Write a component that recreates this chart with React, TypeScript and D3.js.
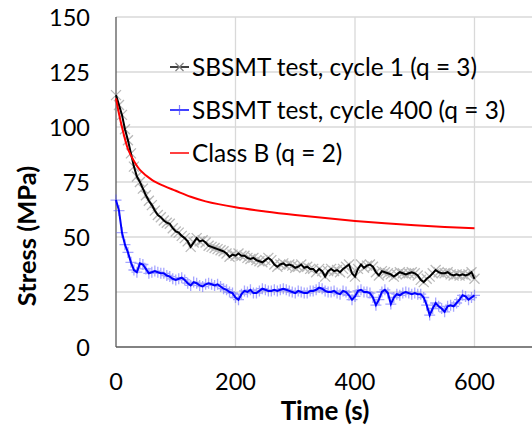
import React from "react";
import * as d3 from "d3";

const times: number[] = d3.range(0, 601, 5);

const cycle1: number[] = [
  114.5, 110, 105.5, 99, 94, 88, 82, 77.5, 75, 72, 69, 66.5, 64.5, 62, 60, 59, 57.5, 56.5, 56, 54,
  52.5, 52, 50.5, 49.5, 48, 45.5, 47.5, 49.5, 48, 48.5, 47.5, 46, 45.5, 45, 44.5, 44, 43.5, 42.5, 41, 42,
  41.5, 42.5, 41.5, 41.5, 40.5, 40, 40.5, 39.5, 39, 38.5, 39.5, 40.5, 39.5, 37.5, 36.5, 37.5, 38, 37, 37.5, 37,
  36, 36.5, 37.5, 36, 36.5, 35.5, 35.5, 34, 35.5, 34.5, 32, 34.5, 35.5, 34.5, 35, 34, 35.5, 36.5, 37.5, 33.5,
  32, 35.5, 37.5, 36, 37, 37.5, 36.5, 34, 32.5, 34.5, 34, 33.5, 33, 32, 33, 34, 33.5, 33, 33.5, 34,
  33.5, 32.5, 30.5, 29.5, 31, 32, 33.5, 35, 34, 33.5, 33.5, 34, 33, 32.5, 33, 32.5, 33, 32.5, 33, 34,
  31,
];

const cycle400: number[] = [
  66.8, 62, 52, 46.5, 43, 38.5, 35, 34, 38, 37.5, 35.5, 33.5, 34, 34.5, 34, 33.5, 33.5, 32.5, 32, 31,
  30.5, 31, 31.5, 30.5, 29, 28, 29.5, 29, 28, 27.5, 28.5, 29, 28.5, 28, 28.5, 27.5, 26.5, 26, 25, 24.5,
  22.5, 21.5, 24, 25.5, 25, 26, 24.5, 24.5, 25.5, 26.5, 26, 25.5, 25.5, 26, 25.5, 26, 26.5, 26, 25.5, 25,
  24.5, 25.5, 25, 24.5, 24.5, 25.5, 25.5, 26, 27, 26.5, 25.5, 25, 25, 25.5, 24.5, 24, 25.5, 25, 23.5, 21.5,
  23, 25.5, 26, 25, 25, 24.5, 22.5, 19, 21.5, 25, 26, 24.5, 19.5, 22.5, 24, 23.5, 24.5, 25, 24.5, 24,
  24.5, 24, 24, 22.5, 19, 14.5, 17.5, 20, 18.5, 17.5, 16, 18.5, 19, 18.5, 20, 21.5, 23.5, 23, 21.5, 22.5,
  23.5,
];

const classBTimes: number[] = [0, 5, 10, 20, 30, 40, 60, 80, 100, 125, 150, 200, 250, 300, 350, 400, 450, 500, 550, 600];
const classBValues: number[] = [113, 106, 100, 90, 84.5, 80.5, 76, 73.2, 71, 68.3, 66.2, 63.5, 61.6, 60, 58.6, 57.3, 56.2, 55.3, 54.6, 54];

const xTicks: number[] = [0, 200, 400, 600];
const xGrid: number[] = [200, 400, 600, 800];
const yTicks: number[] = [0, 25, 50, 75, 100, 125, 150];

const legendLabels: string[] = [
  "SBSMT test, cycle 1 (q = 3)",
  "SBSMT test, cycle 400 (q = 3)",
  "Class B (q = 2)",
];

const W = 532;
const H = 428;
const FONT = "Lato, 'Open Sans', sans-serif";

export default function App() {
  const x = d3.scaleLinear().domain([0, 800]).range([116, 594]);
  const y = d3.scaleLinear().domain([0, 150]).range([347, 17]);

  const line = d3
    .line<[number, number]>()
    .x((d) => x(d[0]))
    .y((d) => y(d[1]));
  const smooth = d3
    .line<[number, number]>()
    .x((d) => x(d[0]))
    .y((d) => y(d[1]))
    .curve(d3.curveCatmullRom.alpha(0.5));

  const blackPts: [number, number][] = times.map((t, i) => [t, cycle1[i]]);
  const bluePts: [number, number][] = times.map((t, i) => [t, cycle400[i]]);
  const redPts: [number, number][] = classBTimes.map((t, i) => [t, classBValues[i]]);

  const xMark = (cx: number, cy: number, r: number) =>
    `M${cx - r},${cy - r}L${cx + r},${cy + r}M${cx - r},${cy + r}L${cx + r},${cy - r}`;
  const plusMark = (cx: number, cy: number, r: number) =>
    `M${cx - r},${cy}L${cx + r},${cy}M${cx},${cy - r}L${cx},${cy + r}`;

  const legendY = [67, 110, 153];

  return (
    <svg
      width={W}
      height={H}
      style={{ position: "absolute", left: 0, top: 0, background: "#fff" }}
      fontFamily={FONT}
    >
      <rect x={0} y={0} width={W} height={H} fill="#fff" />
      <defs>
        <clipPath id="plot">
          <rect x={110} y={10} width={486} height={345} />
        </clipPath>
      </defs>
      {yTicks.filter((v) => v > 0).map((v) => (
        <line key={"gy" + v} x1={x(0)} x2={x(800)} y1={y(v)} y2={y(v)} stroke="#d9d9d9" strokeWidth={1.3} />
      ))}
      {xGrid.map((v) => (
        <line key={"gx" + v} x1={x(v)} x2={x(v)} y1={y(0)} y2={y(150)} stroke="#d9d9d9" strokeWidth={1.3} />
      ))}
      <line x1={x(0)} x2={x(0)} y1={y(0)} y2={y(150)} stroke="#595959" strokeWidth={1.3} />
      <line x1={x(0)} x2={x(800)} y1={y(0)} y2={y(0)} stroke="#595959" strokeWidth={1.3} />

      {yTicks.map((v) => (
        <text key={"ty" + v} x={90} y={y(v) + 8.5} textAnchor="end" fontSize={23.5} fill="#000">
          {v}
        </text>
      ))}
      {xTicks.map((v) => (
        <text key={"tx" + v} x={x(v)} y={390} textAnchor="middle" fontSize={23.5} fill="#000">
          {v}
        </text>
      ))}

      <text x={325} y={420} textAnchor="middle" fontSize={26} fontWeight="bold" fill="#000">
        Time (s)
      </text>
      <text
        transform="translate(36,236) rotate(-90)"
        textAnchor="middle"
        fontSize={25.5}
        fontWeight="bold"
        fill="#000"
      >
        Stress (MPa)
      </text>

      <g clipPath="url(#plot)">
        <path
          d={blackPts.map((p) => xMark(x(p[0]), y(p[1]), 5)).join("")}
          stroke="#808080"
          strokeOpacity={0.55}
          strokeWidth={1.3}
          fill="none"
        />
        <path d={line(blackPts) ?? ""} stroke="#000" strokeWidth={2} fill="none" />
        <path
          d={bluePts.map((p) => plusMark(x(p[0]), y(p[1]), 5.5)).join("")}
          stroke="#5c5cff"
          strokeOpacity={0.55}
          strokeWidth={1.3}
          fill="none"
        />
        <path d={line(bluePts) ?? ""} stroke="#0000ff" strokeWidth={2} fill="none" />
        <path d={smooth(redPts) ?? ""} stroke="#ff0000" strokeWidth={2} fill="none" />
      </g>

      <g>
        <line x1={170} x2={189} y1={legendY[0]} y2={legendY[0]} stroke="#000" strokeWidth={1.5} />
        <path d={xMark(179.5, legendY[0], 4)} stroke="#7f7f7f" strokeWidth={1.2} fill="none" />
        <line x1={170} x2={189} y1={legendY[1]} y2={legendY[1]} stroke="#0000ff" strokeWidth={1.5} />
        <path d={plusMark(179.5, legendY[1], 5)} stroke="#4d4dff" strokeOpacity={0.7} strokeWidth={1.2} fill="none" />
        <line x1={170} x2={189} y1={legendY[2]} y2={legendY[2]} stroke="#ff0000" strokeWidth={1.5} />
        {legendLabels.map((s, i) => (
          <text key={s} x={192} y={legendY[i] + 8.5} fontSize={24.4} fill="#000">
            {s}
          </text>
        ))}
      </g>
    </svg>
  );
}
